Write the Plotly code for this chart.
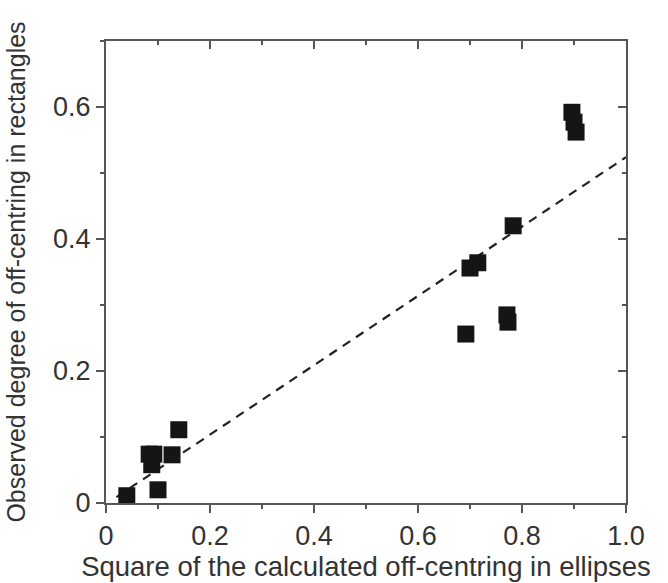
import plotly.graph_objects as go

# data
calc_sq = [0.040, 0.100, 0.083, 0.092, 0.088, 0.127, 0.140,
           0.700, 0.715, 0.692, 0.771, 0.773, 0.783, 0.896, 0.900, 0.904]
observed = [0.011, 0.020, 0.074, 0.074, 0.058, 0.073, 0.111,
            0.356, 0.364, 0.256, 0.285, 0.274, 0.420, 0.592, 0.577, 0.562]
fit_x = [0.02, 1.0]
fit_y = [0.009, 0.524]
x_ticks = [0, 0.2, 0.4, 0.6, 0.8, 1.0]
x_ticklabels = ["0", "0.2", "0.4", "0.6", "0.8", "1.0"]
y_ticks = [0, 0.2, 0.4, 0.6]
y_ticklabels = ["0", "0.2", "0.4", "0.6"]

font_fam = "Liberation Sans, Arial, sans-serif"
txt = "#333333"
axc = "#555555"

fig = go.Figure()
fig.add_trace(go.Scatter(x=fit_x, y=fit_y, mode="lines",
                         line=dict(color="#222222", width=2.2, dash="9px,7px"),
                         showlegend=False, hoverinfo="skip"))
fig.add_trace(go.Scatter(x=calc_sq, y=observed, mode="markers",
                         marker=dict(symbol="square", size=17, color="#151515",
                                     line=dict(width=0)),
                         showlegend=False))
fig.add_trace(go.Scatter(x=[None], y=[None], xaxis="x2", yaxis="y2",
                         showlegend=False, hoverinfo="skip"))

common = dict(showline=True, linecolor=axc, linewidth=2, showgrid=False,
              zeroline=False, tickcolor=axc, tickwidth=2, automargin=False)

fig.update_layout(
    width=668, height=583,
    margin=dict(l=106, r=42, t=41, b=80),
    plot_bgcolor="white", paper_bgcolor="white",
    font=dict(family=font_fam, size=27, color=txt),
    xaxis=dict(range=[0, 1.0], tickvals=x_ticks, ticktext=x_ticklabels,
               ticks="outside", ticklen=8,
               tickfont=dict(size=27),
               minor=dict(dtick=0.1, ticks="outside", ticklen=4, tickcolor=axc, tickwidth=2),
               title=dict(text="Square of the calculated off-centring in ellipses",
                          font=dict(size=27.5, color=txt), standoff=4),
               **common),
    yaxis=dict(range=[0, 0.7], tickvals=y_ticks, ticktext=y_ticklabels,
               ticks="outside", ticklen=8,
               tickfont=dict(size=27),
               minor=dict(dtick=0.1, ticks="outside", ticklen=4, tickcolor=axc, tickwidth=2),
               title=dict(text="Observed degree of off-centring in rectangles",
                          font=dict(size=25, color=txt), standoff=20),
               **common),
    xaxis2=dict(range=[0, 1.0], overlaying="x", side="top", anchor="y",
                tickvals=x_ticks, ticks="inside", ticklen=8, showticklabels=False,
                minor=dict(dtick=0.1, ticks="inside", ticklen=4, tickcolor=axc, tickwidth=2),
                **common),
    yaxis2=dict(range=[0, 0.7], overlaying="y", side="right", anchor="x",
                tickvals=y_ticks, ticks="inside", ticklen=8, showticklabels=False,
                minor=dict(dtick=0.1, ticks="inside", ticklen=4, tickcolor=axc, tickwidth=2),
                **common),
)

fig.write_html("out.html")
